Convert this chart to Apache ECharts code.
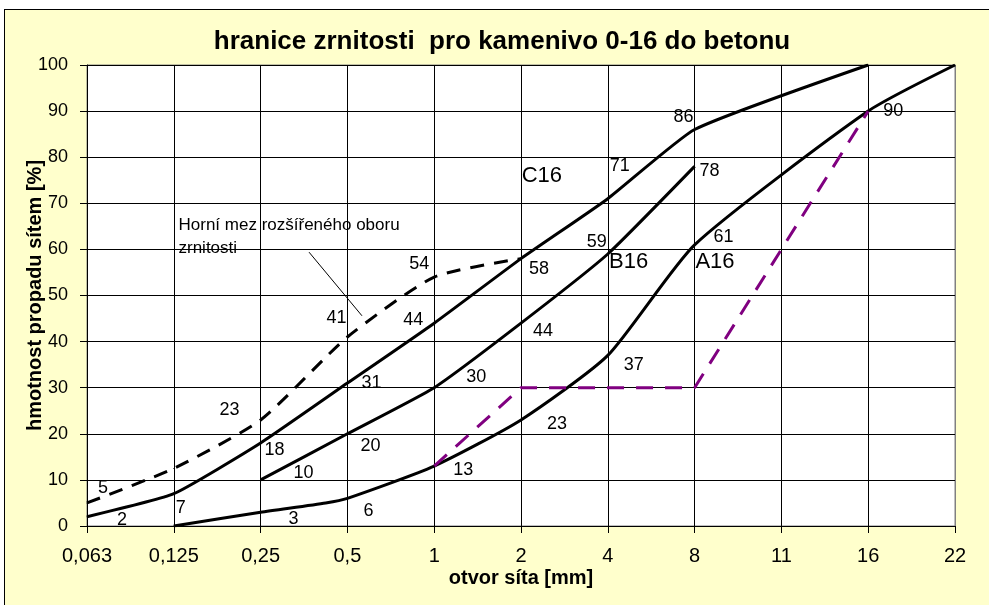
<!DOCTYPE html>
<html>
<head>
<meta charset="utf-8">
<script src="https://cdn.jsdelivr.net/npm/echarts@6/dist/echarts.min.js"></script>
<style>
    html, body { margin: 0; padding: 0; background: #fff; overflow: hidden; }
    #chart {
        position: absolute; left: 4px; top: 9px; width: 985px; height: 596px;
        border-left: 1px solid #000; border-top: 1px solid #000; background: #ffffcc;
    }
</style>
</head>
<body>
<div id="chart"></div>
<script>
// sita (osa x) - kategorie, body se kreslí na index kategorie
const sieves = ['0,063', '0,125', '0,25', '0,5', '1', '2', '4', '8', '11', '16', '22'];
const yTicks = [0, 10, 20, 30, 40, 50, 60, 70, 80, 90, 100];

// C16
const c16X = [0, 1, 2, 3, 4, 5, 6, 7, 9];
const c16Y = [2, 7, 18, 31, 44, 58, 71, 86, 100];
// B16
const b16X = [2, 3, 4, 5, 6, 7];
const b16Y = [10, 20, 30, 44, 59, 78];
// A16
const a16X = [1, 2, 2.75, 3, 4, 5, 6, 7, 9, 10];
const a16Y = [0, 3, 5, 6, 13, 23, 37, 61, 90, 100];
// horní mez rozšířeného oboru zrnitosti
const upperX = [0, 1, 2, 3, 4, 5];
const upperY = [5, 12.5, 23, 41, 54, 58];
// fialová čára
const purpleX = [4, 5, 6, 7, 8, 9];
const purpleY = [13, 30, 30, 30, 60, 90];

// posuny popisků od bodu [dx, dy], null = bez popisku
const c16Offsets = [[35, 3], [7, 14], [14, 7], [24, 0], [-21, -3], [18, 10], [12, -33], [-11, -13], null];
const b16Offsets = [[43, -7], [23, 12], [42, -11], [22, 8], [-11, -12], [15, 5]];
const a16Offsets = [null, [33, 7], null, [21, 13], [29, 4], [36, 4], [26, 10], [29, -8], [25, 0], null];
const upperOffsets = [[16, -15], null, [-31, -10], [-11, -19], [-15, -13], null];

const font = 'Liberation Sans, Arial, sans-serif';

function buildData(xs, ys, offsets) {
    const data = [];
    for (let i = 0, l = xs.length; i < l; i++) {
        const off = offsets ? offsets[i] : null;
        data.push({
            value: [xs[i], ys[i]],
            label: off ? { show: true, offset: off } : { show: false }
        });
    }
    return data;
}

const pointLabel = {
    position: 'inside',
    color: '#000',
    fontSize: 18,
    fontFamily: font,
    formatter: function (p) { return p.value[1]; }
};

function curveName(text, x, y) {
    return {
        symbol: 'circle',
        symbolSize: 1,
        itemStyle: { color: 'transparent' },
        label: { show: true, position: 'inside', formatter: '{b}', color: '#000', fontSize: 22, fontFamily: font },
        data: [{ name: text, coord: [x, y] }]
    };
}

const gridColors = ['#000', '#000', '#000', '#000', '#000', '#000', '#000', '#000', '#000', '#000', '#808080'];

const chart = echarts.init(document.getElementById('chart'));
chart.setOption({
    animation: false,
    title: {
        text: 'hranice zrnitosti  pro kamenivo 0-16 do betonu',
        left: 497,
        top: 19,
        padding: 0,
        textAlign: 'center',
        textStyle: { fontFamily: font, fontSize: 26, fontWeight: 'bold', color: '#000' }
    },
    grid: {
        left: 82, top: 55, right: 35, bottom: 80,
        show: true, backgroundColor: '#fff', borderColor: '#808080', borderWidth: 1
    },
    xAxis: {
        type: 'value',
        min: 0,
        max: sieves.length - 1,
        interval: 1,
        name: 'otvor síta [mm]',
        nameLocation: 'middle',
        nameGap: 42,
        nameMoveOverlap: false,
        nameTextStyle: { fontFamily: font, fontSize: 20, fontWeight: 'bold', color: '#000' },
        axisLine: { lineStyle: { color: '#000', width: 1 } },
        axisTick: { show: true, length: 7, lineStyle: { color: '#000' } },
        axisLabel: {
            margin: 20, color: '#000', fontSize: 20, fontFamily: font,
            formatter: function (v) { return sieves[Math.round(v)]; }
        },
        splitLine: { show: true, lineStyle: { color: gridColors, width: 1 } }
    },
    yAxis: {
        type: 'value',
        min: yTicks[0],
        max: yTicks[yTicks.length - 1],
        interval: 10,
        name: 'hmotnost propadu sítem [%]',
        nameLocation: 'middle',
        nameGap: 42,
        nameMoveOverlap: false,
        nameTextStyle: { fontFamily: font, fontSize: 20, fontWeight: 'bold', color: '#000' },
        axisLine: { show: true, lineStyle: { color: '#000', width: 1 } },
        axisTick: { show: true, length: 7, lineStyle: { color: '#000' } },
        axisLabel: { margin: 19, color: '#000', fontSize: 18, fontFamily: font },
        splitLine: { show: true, lineStyle: { color: '#000', width: 1 } }
    },
    series: [
        {
            name: 'C16', type: 'line', smooth: 0.15,
            symbol: 'circle', symbolSize: 1, itemStyle: { color: '#000' },
            lineStyle: { color: '#000', width: 3 },
            label: pointLabel,
            data: buildData(c16X, c16Y, c16Offsets),
            markPoint: curveName('C16', 5.24, 76)
        },
        {
            name: 'B16', type: 'line', smooth: 0.15,
            symbol: 'circle', symbolSize: 1, itemStyle: { color: '#000' },
            lineStyle: { color: '#000', width: 3 },
            label: pointLabel,
            data: buildData(b16X, b16Y, b16Offsets),
            markPoint: curveName('B16', 6.24, 57.3)
        },
        {
            name: 'A16', type: 'line', smooth: 0.2,
            symbol: 'circle', symbolSize: 1, itemStyle: { color: '#000' },
            lineStyle: { color: '#000', width: 3 },
            label: pointLabel,
            data: buildData(a16X, a16Y, a16Offsets),
            markPoint: curveName('A16', 7.235, 57.3)
        },
        {
            name: 'Horní mez', type: 'line', smooth: 0.2,
            symbol: 'circle', symbolSize: 1, itemStyle: { color: '#000' },
            lineStyle: { color: '#000', width: 3, type: [14, 10] },
            label: pointLabel,
            data: buildData(upperX, upperY, upperOffsets),
            markPoint: {
                symbol: 'circle', symbolSize: 1,
                itemStyle: { color: 'transparent' },
                label: {
                    show: true, position: [0, 0], align: 'left', verticalAlign: 'middle',
                    formatter: '{b}', color: '#000', fontSize: 17, lineHeight: 23, fontFamily: font
                },
                data: [{ name: 'Horní mez rozšířeného oboru\nzrnitosti', coord: [1.06, 62.6] }]
            },
            markLine: {
                silent: true,
                symbol: 'none',
                label: { show: false },
                lineStyle: { color: '#000', width: 1, type: 'solid' },
                data: [[{ coord: [2.558, 59.4] }, { coord: [3.168, 45.6] }]]
            }
        },
        {
            name: 'fialová', type: 'line', smooth: false,
            symbol: 'none',
            lineStyle: { color: '#800080', width: 3, type: [17, 12] },
            data: buildData(purpleX, purpleY, null)
        }
    ]
});
</script>
</body>
</html>
